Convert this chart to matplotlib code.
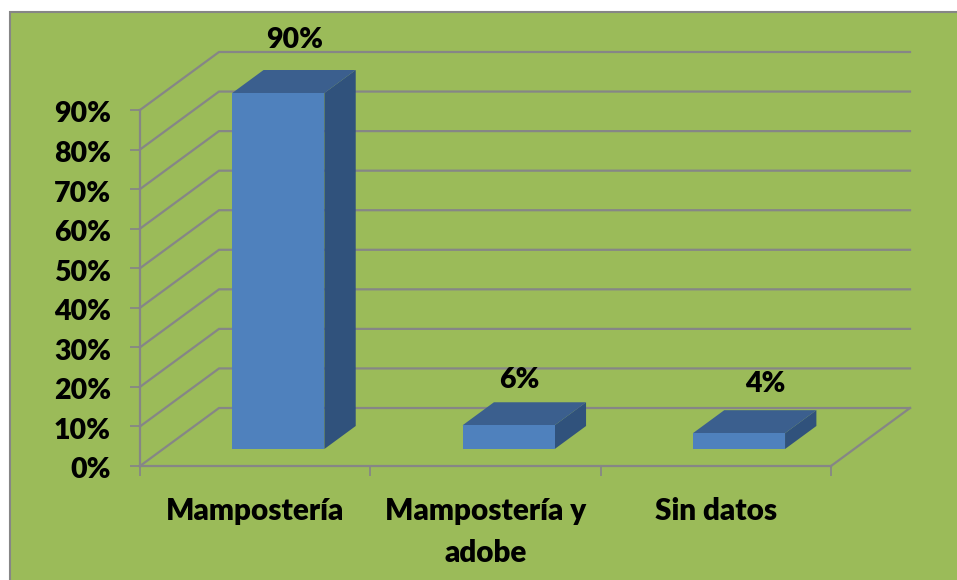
import matplotlib
matplotlib.use("Agg")
import matplotlib.pyplot as plt
from matplotlib.patches import Polygon, Rectangle
from matplotlib.ticker import FixedLocator
from matplotlib.transforms import Affine2D

categories = ["Mampostería", "Mampostería y\nadobe", "Sin datos"]
values = [90, 6, 4]
value_labels = ["90%", "6%", "4%"]
y_ticks = [0, 10, 20, 30, 40, 50, 60, 70, 80, 90]
y_tick_labels = ["0%", "10%", "20%", "30%", "40%", "50%", "60%", "70%", "80%", "90%"]

W, H = 957, 580
GREEN, GRID = "#9BBB59", "#868686"
FRONT, TOP, SIDE = "#4F81BD", "#3B5F8E", "#30527C"
FONT = "Lato"
WEIGHT = "heavy"

fig = plt.figure(figsize=(W / 100, H / 100), dpi=100, facecolor="white")
fig.add_artist(Rectangle((10 / W, -10 / H), 960 / W, 1 - 2 / H, transform=fig.transFigure,
                         facecolor=GREEN, edgecolor=GRID, linewidth=1.5, zorder=-5))

# The axes is the front plane of the 3D box
ax = fig.add_axes([140 / W, 1 - 466 / H, (831 - 140) / W, (466 - 110) / H])
ax.patch.set_visible(False)
ax.set_xlim(0, 3)
ax.set_ylim(0, 90)
for name in ("top", "right"):
    ax.spines[name].set_visible(False)
for name in ("left", "bottom"):
    ax.spines[name].set_color(GRID)
    ax.spines[name].set_linewidth(1.6)

# Depth of the box, in data units
DX = 79 / ((831 - 140) / 3)
DY = 58 / ((466 - 110) / 90)
BAR_NEAR, BAR_FAR = 17 / 58, 40 / 58
BAR_W = 0.4

for v in y_ticks:
    ax.plot([0, DX, 3 + DX], [v, v + DY, v + DY], color=GRID, lw=1.6,
            clip_on=False, zorder=1, solid_joinstyle="miter")
ax.plot([3, 3 + DX], [0, DY], color=GRID, lw=1.6, clip_on=False, zorder=1)

ax.set_yticks(y_ticks)
ax.set_yticklabels(y_tick_labels, fontfamily=FONT, fontweight=WEIGHT, fontsize=20.5, color="black")
ax.tick_params(axis="y", length=7, width=1.3, color=GRID, pad=14)
for lab in ax.get_yticklabels():
    lab.set_transform(lab.get_transform() + Affine2D().translate(0, -2))
ax.set_xticks([0, 1, 2, 3])
ax.set_xticklabels([])
ax.xaxis.set_minor_locator(FixedLocator([0.5, 1.5, 2.5]))
ax.set_xticklabels(categories, minor=True, fontfamily=FONT, fontweight=WEIGHT,
                   fontsize=21.3, linespacing=1.6, color="black")
ax.tick_params(axis="x", which="major", length=7, width=1.3, color=GRID)
ax.tick_params(axis="x", which="minor", length=0, pad=22.5)

label_offsets = [(16, 53), (11, 45), (26, 49)]  # px from the bar's front top centre
for i, v in enumerate(values):
    x0 = i + 0.5 - BAR_W / 2 + BAR_NEAR * DX
    x1 = x0 + BAR_W
    y0 = BAR_NEAR * DY
    y1 = y0 + v
    ddx = (BAR_FAR - BAR_NEAR) * DX
    ddy = (BAR_FAR - BAR_NEAR) * DY
    faces = [
        ([(x1, y0), (x1 + ddx, y0 + ddy), (x1 + ddx, y1 + ddy), (x1, y1)], SIDE),
        ([(x0, y1), (x1, y1), (x1 + ddx, y1 + ddy), (x0 + ddx, y1 + ddy)], TOP),
        ([(x0, y0), (x1, y0), (x1, y1), (x0, y1)], FRONT),
    ]
    for pts, c in faces:
        ax.add_patch(Polygon(pts, closed=True, facecolor=c, edgecolor="none",
                             clip_on=False, zorder=3))
    ox, oy = label_offsets[i]
    ax.annotate(value_labels[i], xy=((x0 + x1) / 2, y1),
                xytext=(ox * 0.72, oy * 0.72), textcoords="offset points",
                ha="center", va="center", fontfamily=FONT, fontweight=WEIGHT,
                fontsize=20.5, color="black", annotation_clip=False, zorder=5)

fig.savefig("out.png", dpi=100, facecolor="white")
